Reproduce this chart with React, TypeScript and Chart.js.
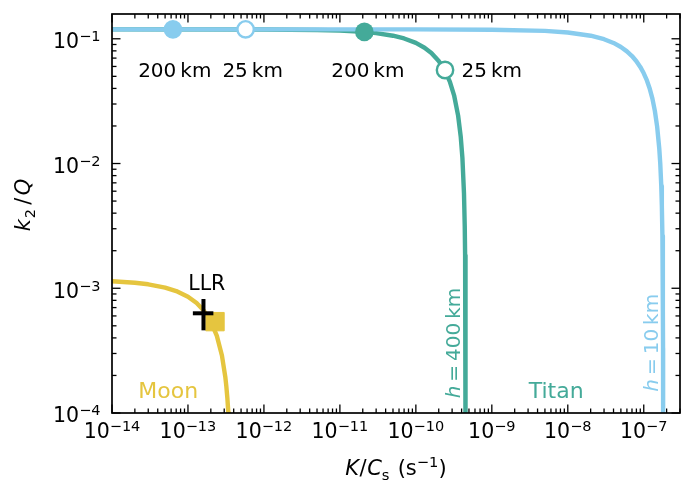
import React, { useEffect, useRef } from 'react';
import { Chart, registerables } from 'chart.js';

Chart.register(...registerables);

const FONT = '"DejaVu Sans", sans-serif';
const CYAN = '#88CCEE';
const TEAL = '#44AA99';
const SAND = '#E5C53F';

// Titan, h = 10 km (cyan)
const cyanX = [1e-14, 1e-10, 1e-9, 5e-9, 1e-8, 2e-8, 3e-8, 4e-8, 5e-8, 6e-8, 7e-8, 8e-8, 9e-8, 1e-7, 1.1e-7, 1.2e-7, 1.3e-7, 1.4e-7, 1.5e-7, 1.6e-7, 1.65e-7, 1.7e-7, 1.73e-7, 1.76e-7, 1.78e-7, 1.79e-7, 1.795e-7, 1.798e-7, 1.799e-7];
const cyanY = [0.119, 0.119, 0.1183, 0.1157, 0.1124, 0.1058, 0.0992, 0.0926, 0.0859, 0.0793, 0.0727, 0.0661, 0.0595, 0.0529, 0.0463, 0.0397, 0.0331, 0.0264, 0.0198, 0.0132, 0.00992, 0.00661, 0.00463, 0.00264, 0.00132, 0.00066, 0.00033, 0.000132, 0.000066];

// Titan, h = 400 km (teal)
const tealX = [1e-14, 1e-12, 5e-12, 1e-11, 2e-11, 3e-11, 5e-11, 7e-11, 1e-10, 1.3e-10, 1.6e-10, 2e-10, 2.4e-10, 2.8e-10, 3.2e-10, 3.6e-10, 3.9e-10, 4.1e-10, 4.3e-10, 4.4e-10, 4.45e-10, 4.48e-10, 4.5e-10, 4.51e-10, 4.515e-10, 4.518e-10];
const tealY = [0.119, 0.1187, 0.1177, 0.1164, 0.1137, 0.1111, 0.1058, 0.1006, 0.0927, 0.0848, 0.0769, 0.0663, 0.0558, 0.0453, 0.0348, 0.0242, 0.0163, 0.0111, 0.00579, 0.00316, 0.00184, 0.00105, 0.00053, 0.00026, 0.000132, 0.0000527];

// Moon (sand)
const moonX = [1e-14, 2e-14, 3e-14, 5e-14, 7e-14, 1e-13, 1.3e-13, 1.6e-13, 2e-13, 2.4e-13, 2.8e-13, 3.1e-13, 3.2e-13, 3.3e-13, 3.4e-13, 3.45e-13, 3.5e-13];
const moonY = [1.139e-3, 1.107e-3, 1.076e-3, 1.013e-3, 0.95e-3, 0.855e-3, 0.761e-3, 0.667e-3, 0.541e-3, 0.415e-3, 0.289e-3, 0.195e-3, 0.1635e-3, 0.132e-3, 0.1006e-3, 0.0849e-3, 0.069e-3];

// markers: [200 km (filled), 25 km (open)]
const cyanMarkX = [6.34e-14, 5.74e-13];
const cyanMarkY = [0.119, 0.119];
const tealMarkX = [2.1e-11, 2.42e-10];
const tealMarkY = [0.1135, 0.0562];

// Moon model point and LLR measurement
const moonModelX = [2.27e-13];
const moonModelY = [5.4e-4];
const llrX = 1.6e-13;
const llrY = 6.3e-4;
const llrXRange = [1.16e-13, 2.16e-13];
const llrYRange = [4.6e-4, 8.2e-4];

// ticks
const xMajorExp = [-14, -13, -12, -11, -10, -9, -8, -7];
const xTickLabels = ['\u221214', '\u221213', '\u221212', '\u221211', '\u221210', '\u22129', '\u22128', '\u22127'];
const yMajorExp = [-4, -3, -2, -1];
const yTickLabels = ['\u22124', '\u22123', '\u22122', '\u22121'];

type Run = { t: string; s: number; it?: boolean; dy?: number; gap?: number };

const fontOf = (r: Run) => `${r.it ? 'italic ' : ''}${r.s}px ${FONT}`;

function runsWidth(ctx: CanvasRenderingContext2D, runs: Run[]) {
  let w = 0;
  for (const r of runs) {
    ctx.font = fontOf(r);
    w += ctx.measureText(r.t).width + (r.gap || 0);
  }
  return w;
}

function drawRuns(ctx: CanvasRenderingContext2D, runs: Run[], x: number, y: number, align: 'left' | 'center' | 'right', color: string) {
  const w = runsWidth(ctx, runs);
  let cx = align === 'center' ? x - w / 2 : align === 'right' ? x - w : x;
  ctx.fillStyle = color;
  ctx.textAlign = 'left';
  ctx.textBaseline = 'alphabetic';
  for (const r of runs) {
    ctx.font = fontOf(r);
    ctx.fillText(r.t, cx, y + (r.dy || 0));
    cx += ctx.measureText(r.t).width + (r.gap || 0);
  }
}

const TICK = 20.5;
const SUP = 14.5;
const ANN = 20;

const decor = {
  id: 'decor',
  afterDatasetsDraw(chart: any) {
    const { ctx, chartArea: a, scales } = chart;
    const xs = scales.x;
    const ys = scales.y;
    ctx.save();
    ctx.strokeStyle = '#000';
    ctx.lineWidth = 1.3;
    const seg = (x1: number, y1: number, x2: number, y2: number) => {
      ctx.beginPath();
      ctx.moveTo(x1, y1);
      ctx.lineTo(x2, y2);
      ctx.stroke();
    };
    const xMax = xs.max;
    const yMax = ys.max;
    // x ticks
    for (const e of xMajorExp) {
      for (let m = 1; m <= 9; m++) {
        const v = m * Math.pow(10, e);
        if (v < xs.min * 0.999 || v > xMax) continue;
        const px = xs.getPixelForValue(v);
        const len = m === 1 ? 8.5 : 4.5;
        seg(px, a.bottom, px, a.bottom - len);
        seg(px, a.top, px, a.top + len);
      }
    }
    // y ticks
    for (const e of yMajorExp) {
      for (let m = 1; m <= 9; m++) {
        const v = m * Math.pow(10, e);
        if (v < ys.min * 0.999 || v > yMax) continue;
        const py = ys.getPixelForValue(v);
        const len = m === 1 ? 8.5 : 4.5;
        seg(a.left, py, a.left + len, py);
        seg(a.right, py, a.right - len, py);
      }
    }
    // spines
    ctx.lineWidth = 1.7;
    ctx.strokeRect(a.left, a.top, a.right - a.left, a.bottom - a.top);

    // tick labels
    xMajorExp.forEach((e, i) => {
      const px = xs.getPixelForValue(Math.pow(10, e));
      drawRuns(ctx, [{ t: '10', s: TICK }, { t: xTickLabels[i], s: SUP, dy: -7 }], px, a.bottom + 25.3, 'center', '#000');
    });
    yMajorExp.forEach((e, i) => {
      const py = ys.getPixelForValue(Math.pow(10, e));
      drawRuns(ctx, [{ t: '10', s: TICK }, { t: yTickLabels[i], s: SUP, dy: -7 }], a.left - 11.5, py + 9.3, 'right', '#000');
    });

    // axis titles
    const cxMid = (a.left + a.right) / 2;
    drawRuns(
      ctx,
      [
        { t: 'K', s: 21, it: true, gap: 0.5 },
        { t: '/', s: 21, gap: 0.5 },
        { t: 'C', s: 21, it: true },
        { t: 's', s: 14.7, dy: 4.5, gap: 1.5 },
        { t: ' (s', s: 21 },
        { t: '\u22121', s: 14.7, dy: -8 },
        { t: ')', s: 21 },
      ],
      cxMid,
      475,
      'center',
      '#000'
    );
    ctx.save();
    ctx.translate(30, 205);
    ctx.rotate(-Math.PI / 2);
    drawRuns(
      ctx,
      [
        { t: 'k', s: 21, it: true, gap: 1 },
        { t: '2', s: 14.7, dy: 4.5, gap: 4 },
        { t: '/', s: 21, gap: 2.5 },
        { t: 'Q', s: 21, it: true },
      ],
      0,
      0,
      'center',
      '#000'
    );
    ctx.restore();

    // annotations
    const X = (v: number) => xs.getPixelForValue(v);
    const Y = (v: number) => ys.getPixelForValue(v);
    const annBase = Y(0.0495);
    drawRuns(ctx, [{ t: '200\u2009km', s: ANN }], X(6.7e-14), annBase, 'center', '#000');
    drawRuns(ctx, [{ t: '25\u2009km', s: ANN }], X(7.1e-13), annBase, 'center', '#000');
    drawRuns(ctx, [{ t: '200\u2009km', s: ANN }], X(2.33e-11), annBase, 'center', '#000');
    drawRuns(ctx, [{ t: '25\u2009km', s: ANN }], X(1.0e-9), annBase, 'center', '#000');
    drawRuns(ctx, [{ t: 'LLR', s: 20.5 }], X(1.77e-13), Y(9.7e-4), 'center', '#000');
    drawRuns(ctx, [{ t: 'Moon', s: 22 }], X(5.5e-14), Y(1.31e-4), 'center', SAND);
    drawRuns(ctx, [{ t: 'Titan', s: 22 }], X(7.04e-9), Y(1.31e-4), 'center', TEAL);

    ctx.save();
    ctx.translate(X(3.86e-10), Y(1.31e-4));
    ctx.rotate(-Math.PI / 2);
    drawRuns(ctx, [{ t: 'h', s: ANN, it: true }, { t: '\u2009=\u2009400\u2009km', s: ANN }], 0, 0, 'left', TEAL);
    ctx.restore();

    ctx.save();
    ctx.translate(X(1.54e-7), Y(1.48e-4));
    ctx.rotate(-Math.PI / 2);
    drawRuns(ctx, [{ t: 'h', s: ANN, it: true }, { t: '\u2009=\u200910\u2009km', s: ANN }], 0, 0, 'left', CYAN);
    ctx.restore();

    ctx.restore();
  },
};

const pts = (xv: number[], yv: number[]) => xv.map((v, i) => ({ x: v, y: yv[i] }));

export default function App() {
  const ref = useRef<HTMLCanvasElement>(null);
  useEffect(() => {
    if (!ref.current) return;
    const lineDs = (data: any[], color: string, order: number, width = 4.4) => ({
      data,
      showLine: true,
      borderColor: color,
      backgroundColor: color,
      borderWidth: width,
      pointRadius: 0,
      tension: 0,
      clip: 0,
      order,
      borderCapStyle: 'butt',
      borderJoinStyle: 'round',
    });
    const markDs = (x: number, y: number, color: string, filled: boolean, order: number) => ({
      data: [{ x, y }],
      showLine: false,
      pointRadius: filled ? 9.3 : 8.2,
      pointBackgroundColor: filled ? color : '#ffffff',
      pointBorderColor: color,
      pointBorderWidth: filled ? 0 : 2.4,
      order,
    });
    const chart = new Chart(ref.current, {
      type: 'scatter',
      data: {
        datasets: [
          lineDs(pts(tealX, tealY), TEAL, 6),
          lineDs(pts(cyanX, cyanY), CYAN, 5),
          lineDs(pts(moonX, moonY), SAND, 4),
          {
            data: pts(moonModelX, moonModelY),
            showLine: false,
            pointStyle: 'rect',
            pointRadius: 13,
            pointBackgroundColor: SAND,
            pointBorderColor: SAND,
            pointBorderWidth: 1,
            order: 3,
          },
          markDs(cyanMarkX[0], cyanMarkY[0], CYAN, true, 2),
          markDs(cyanMarkX[1], cyanMarkY[1], CYAN, false, 2),
          markDs(tealMarkX[0], tealMarkY[0], TEAL, true, 2),
          markDs(tealMarkX[1], tealMarkY[1], TEAL, false, 2),
          lineDs([{ x: llrXRange[0], y: llrY }, { x: llrXRange[1], y: llrY }], '#000000', 1, 4),
          lineDs([{ x: llrX, y: llrYRange[0] }, { x: llrX, y: llrYRange[1] }], '#000000', 1, 4),
        ] as any,
      },
      options: {
        animation: false,
        responsive: false,
        devicePixelRatio: 1,
        events: [],
        layout: { padding: { left: 112, right: 13, top: 12, bottom: 67 } },
        plugins: { legend: { display: false }, tooltip: { enabled: false } },
        scales: {
          x: { type: 'logarithmic', min: 1e-14, max: 3e-7, display: false },
          y: { type: 'logarithmic', min: 1e-4, max: 0.158, display: false },
        },
      } as any,
      plugins: [decor as any],
    });
    return () => chart.destroy();
  }, []);
  return (
    <div style={{ position: 'fixed', left: 0, top: 0, width: 694, height: 480, background: '#fff' }}>
      <canvas ref={ref} width={694} height={480} style={{ display: 'block', width: 694, height: 480 }} />
    </div>
  );
}
